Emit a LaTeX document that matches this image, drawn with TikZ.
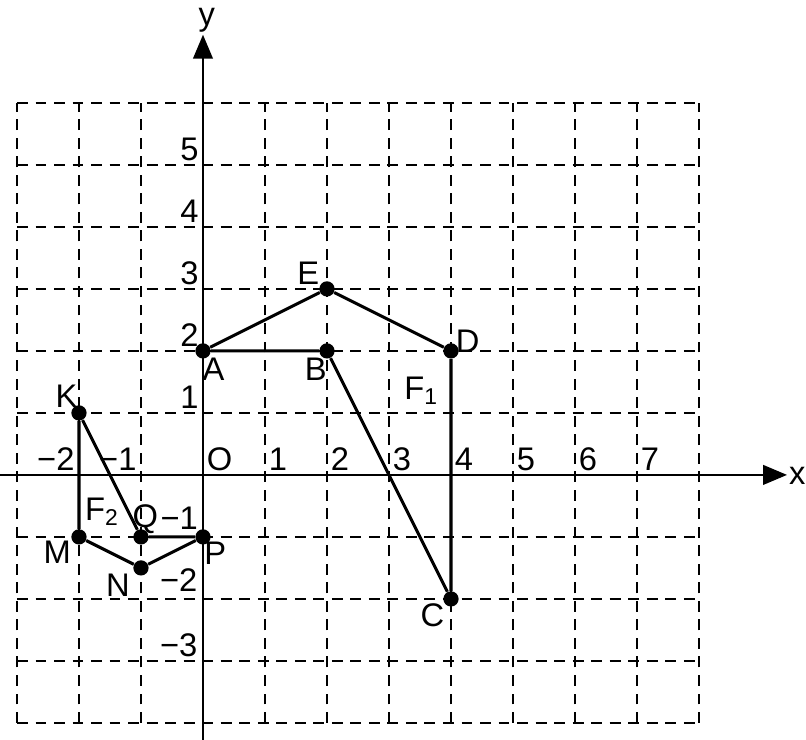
\documentclass[tikz,border=0pt]{standalone}
\usepackage{fontspec}
\setmainfont{Liberation Sans}
\usetikzlibrary{arrows.meta}

\begin{document}
\begin{tikzpicture}[
    gridline/.style={line width=0.9pt,dash pattern=on 5pt off 3.5pt},
    axis/.style={line width=1pt,-{Triangle[length=11pt,width=9pt]}},
    side/.style={line width=1.4pt},
    dot/.style={circle,fill=black,inner sep=0pt,minimum size=7pt},
    lbl/.style={font=\fontsize{15}{17}\selectfont,inner sep=1pt},
]
\useasboundingbox (-3.274,-4.27) rectangle (9.726,7.66);
% dashed grid
\foreach \x in {-3,...,8} \draw[gridline] (\x,-4) -- (\x,6);
\foreach \y in {-4,...,6} \draw[gridline] (-3,\y) -- (8,\y);
% axes
\coordinate (xs) at (-3.274,0);
\coordinate (xe) at (9.42,0);
\coordinate (ys) at (0,-4.27);
\coordinate (ye) at (0,7.1);
\draw[axis] (xs) -- (xe);
\draw[axis] (ys) -- (ye);
\node[lbl,anchor=west,inner sep=0.5pt] (xlab) at (9.43,-0.02) {x};
\node[lbl] (ylab) at (0.06,7.34) {y};
% tick labels
\foreach \x in {1,...,7} \node[lbl,anchor=south west] (tx\x) at (\x+0.02,0.03) {\x};
\node[lbl,anchor=south west] (orig) at (0.02,0.03) {O};
\node[lbl,anchor=south east] (txm1) at (-1.03,0.03) {−1};
\node[lbl,anchor=south east] (txm2) at (-2.03,0.03) {−2};
\foreach \y in {1,...,5} \node[lbl,anchor=south east] (ty\y) at (-0.03,\y+0.03) {\y};
\node[lbl,anchor=south east] (tym1) at (-0.04,-0.92) {−1};
\node[lbl,anchor=south east] (tym2) at (-0.05,-1.92) {−2};
\node[lbl,anchor=south east] (tym3) at (-0.05,-2.98) {−3};
% figure F1
\node[dot] (A) at (0,2) {};
\node[dot] (B) at (2,2) {};
\node[dot] (E) at (2,3) {};
\node[dot] (D) at (4,2) {};
\node[dot] (C) at (4,-2) {};
\draw[side] (A) -- (E) -- (D) -- (C) -- (B) -- (A);
\node[lbl] (Alab) at (0.17,1.7) {A};
\node[lbl] (Blab) at (1.82,1.7) {B};
\node[lbl] (Elab) at (1.7,3.25) {E};
\node[lbl] (Dlab) at (4.27,2.15) {D};
\node[lbl] (Clab) at (3.7,-2.27) {C};
\node[lbl] (F1lab) at (3.52,1.35) {F\textsubscript{1}};
% figure F2
\node[dot] (K) at (-2,1) {};
\node[dot] (M) at (-2,-1) {};
\node[dot] (N) at (-1,-1.5) {};
\node[dot] (P) at (0,-1) {};
\node[dot] (Q) at (-1,-1) {};
\draw[side] (K) -- (M) -- (N) -- (P) -- (Q) -- (K);
\node[lbl] (Klab) at (-2.2,1.27) {K};
\node[lbl] (Mlab) at (-2.35,-1.25) {M};
\node[lbl] (Nlab) at (-1.37,-1.78) {N};
\node[lbl] (Plab) at (0.2,-1.27) {P};
\node[lbl] (Qlab) at (-0.93,-0.72) {Q};
\node[lbl] (F2lab) at (-1.63,-0.6) {F\textsubscript{2}};
\end{tikzpicture}
\end{document}
